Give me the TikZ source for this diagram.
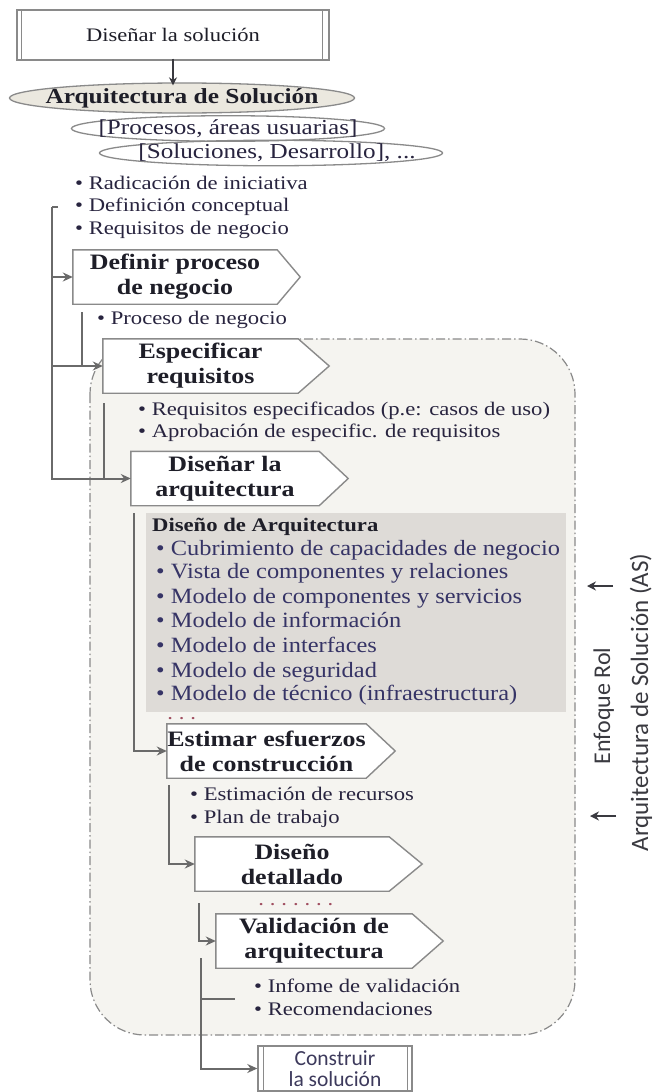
\documentclass[tikz,border=0pt]{standalone}
\usepackage{fontspec}
\setmainfont{Liberation Serif}[FakeStretch=1.18]
\newfontfamily\fG{Liberation Serif}[FakeStretch=1.12]
\newfontfamily\fSans{Carlito}
\usetikzlibrary{shapes.geometric,arrows.meta}
\definecolor{linegray}{HTML}{6A6A6A}
\definecolor{boxgray}{HTML}{8A8A8A}
\definecolor{regfill}{HTML}{F5F4F0}
\definecolor{gboxfill}{HTML}{DEDBD7}
\definecolor{ellfill}{HTML}{EBE8DF}
\definecolor{titcol}{HTML}{1E1E28}
\definecolor{bulcol}{HTML}{28243F}
\definecolor{gbulcol}{HTML}{363466}
\definecolor{dotcol}{HTML}{A04E60}
\definecolor{sanscol}{HTML}{3A3A40}
\definecolor{conscol}{HTML}{3D3A5C}
\newcommand\chev[2]{%
  \fill[white] (#1.north east) -- ([xshift=#2]#1.east) -- (#1.south east) -- cycle;
  \draw[boxline] (#1.north west) -- (#1.north east) -- ([xshift=#2]#1.east) -- (#1.south east) -- (#1.south west) -- cycle;}
\newcommand\dsp{\hspace{7.4pt}}
\begin{document}
\begin{tikzpicture}[x=1pt,y=-1pt,
  conn/.style={draw=linegray, line width=2},
  arr/.style={conn, -{Stealth[length=10,width=9]}},
  rarr/.style={draw=sanscol, line width=2, -{Stealth[length=9,width=9]}},
  boxline/.style={draw=boxgray, line width=1.4},
  ppbox/.style={draw=boxgray, line width=1.4, fill=white, inner sep=0, align=center},
  region/.style={draw=boxgray, fill=regfill, line width=1.2, dash pattern=on 9 off 3 on 1.5 off 3, rounded corners=55},
  ell/.style={ellipse, draw=boxgray, line width=1.3, inner sep=0},
  chevbox/.style={fill=white, inner sep=0, minimum height=54, align=center, text=titcol,
     font=\bfseries\fontsize{22}{25}\selectfont},
  bul/.style={anchor=west, inner sep=0, text=bulcol, font=\fontsize{19.2}{22}\selectfont, text height=13.5, text depth=4},
  gbul/.style={anchor=west, inner sep=0, text=gbulcol, font=\fG\fontsize{21.8}{25}\selectfont, text height=15.5, text depth=4.5},
  dots/.style={anchor=base west, inner sep=0, text=dotcol, font=\bfseries\fontsize{14}{15}\selectfont},
]
\fill[white] (0,0) rectangle (665,1092);
\useasboundingbox (0,0) rectangle (665,1092);

% shaded region
\draw[region] (90,339) rectangle (575,1035);

% top box
\node[ppbox, minimum width=312, minimum height=50, text=titcol, font=\fontsize{19.1}{21}\selectfont] (top) at (173,35) {Diseñar la solución};
\draw[boxline] ([xshift=5]top.north west) -- ([xshift=5]top.south west);
\draw[boxline] ([xshift=-7]top.north east) -- ([xshift=-7]top.south east);

% ellipses
\node[ell, fill=ellfill, minimum width=345, minimum height=30, text=titcol, font=\bfseries\fontsize{21.5}{23}\selectfont] (arq) at (182,98) {\makebox[0pt]{Arquitectura de Solución}};
\node[ell, minimum width=313, minimum height=24, text=bulcol, font=\fontsize{21.3}{23}\selectfont] (proc) at (228,128.5) {\makebox[0pt]{[Procesos, áreas usuarias]}};
\node[ell, minimum width=343, minimum height=24, text=bulcol, font=\fontsize{21.3}{23}\selectfont] (sol) at (271,153) {\makebox[0pt]{\hspace{12pt}[Soluciones, Desarrollo], ...}};

\draw[draw=sanscol, line width=1.8, -{Stealth[length=8,width=8]}] ([yshift=2]top.south) -- ([yshift=-3]top.south |- arq.north);

% upper bullets
\node[bul] (t1) at (75,185) {• Radicación de iniciativa};
\node[bul] (t2) at (75,207) {• Definición conceptual};
\node[bul] (t3) at (75,230) {• Requisitos de negocio};

% process boxes
\node[chevbox, minimum width=204] (def) at (175,277) {Definir proceso\\de negocio};
\chev{def}{23}
\node[bul] (t4) at (97,320) {• Proceso de negocio};
\node[chevbox, minimum width=195] (esp) at (200.5,366) {Especificar\\requisitos};
\chev{esp}{31}
\node[bul] (t5) at (138,411) {• Requisitos especificados (p.e: casos de uso)};
\node[bul] (t6) at (138,433) {• Aprobación de especific. de requisitos};
\node[chevbox, minimum width=188] (dar) at (225,478.5) {Diseñar la\\arquitectura};
\chev{dar}{29}

% grey box
\node[fill=gboxfill, inner sep=0, minimum width=420, minimum height=199] (gb) at (356,612.5) {};
\node[anchor=west, inner sep=0, text=titcol, font=\bfseries\fontsize{19.2}{21}\selectfont, text height=13.5, text depth=4] (g0) at (152,527) {Diseño de Arquitectura};
\node[gbul] (g1) at (156,550) {• Cubrimiento de capacidades de negocio};
\node[gbul] (g2) at (156,573) {• Vista de componentes y relaciones};
\node[gbul] (g3) at (156,598) {• Modelo de componentes y servicios};
\node[gbul] (g4) at (156,622) {• Modelo de información};
\node[gbul] (g5) at (156,647) {• Modelo de interfaces};
\node[gbul] (g6) at (156,672) {• Modelo de seguridad};
\node[gbul] (g7) at (156,695) {• Modelo de técnico (infraestructura)};
\node[dots] (d1) at (168,719) {.\dsp.\dsp.};

\node[chevbox, minimum width=199] (est) at (266.5,751) {Estimar esfuerzos\\de construcción};
\chev{est}{29}
\node[bul] (t7) at (190,796) {• Estimación de recursos};
\node[bul] (t8) at (190,819) {• Plan de trabajo};
\node[chevbox, minimum width=194] (ddet) at (292,864) {Diseño\\detallado};
\chev{ddet}{33}
\node[dots] (d2) at (259,905) {.\dsp.\dsp.\dsp.\dsp.\dsp.\dsp.};
\node[chevbox, minimum width=196] (val) at (314,941) {Validación de\\arquitectura};
\chev{val}{31}
\node[bul] (t9) at (254,988) {• Infome de validación};
\node[bul] (t10) at (254,1011) {• Recomendaciones};

% bottom box
\node[ppbox, minimum width=154, minimum height=45, text=conscol, font=\fSans\fontsize{21.5}{21}\selectfont] (con) at (335,1068.5) {Construir\\la solución};
\draw[boxline] ([xshift=6]con.north west) -- ([xshift=6]con.south west);
\draw[boxline] ([xshift=-5]con.north east) -- ([xshift=-5]con.south east);

% connectors
\coordinate (b0) at (52,207);
\draw[conn] ([xshift=6]b0) -- (b0);
\draw[arr] (b0) |- (def.west);
\draw[arr] (b0) |- (esp.west);
\draw[arr] (b0) |- (dar.west);
\coordinate (b1) at (82,312);
\draw[conn] (b1) -- (b1 |- esp.west);
\coordinate (b2) at (104,403);
\draw[conn] (b2) -- (b2 |- dar.west);
\coordinate (b3) at (134,513);
\draw[arr] (b3) |- (est.west);
\coordinate (b4) at (169,785);
\draw[arr] (b4) |- (ddet.west);
\coordinate (b5) at (199,903);
\draw[arr] (b5) |- (val.west);
\coordinate (b6) at (201,958);
\draw[arr] (b6) |- (con.west);
\coordinate (b7) at (235,999);
\draw[conn] (b6 |- b7) -- (b7);

% right side
\coordinate (r1a) at (613,586);
\coordinate (r1b) at (587,586);
\draw[rarr] (r1a) -- (r1b);
\coordinate (r2a) at (616,816);
\coordinate (r2b) at (590,816);
\draw[rarr] (r2a) -- (r2b);
\node[rotate=90, anchor=base, inner sep=0, text=sanscol, font=\fSans\fontsize{24}{28}\selectfont] (enf) at (610,706) {Enfoque Rol};
\node[rotate=90, anchor=base, inner sep=0, text=sanscol, font=\fSans\fontsize{25}{28}\selectfont] (as) at (648,702.5) {Arquitectura de Solución (AS)};
\end{tikzpicture}
\end{document}
